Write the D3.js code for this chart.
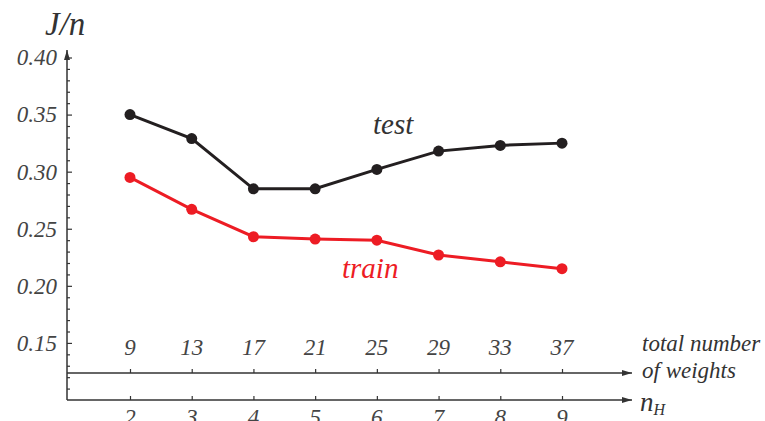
<!DOCTYPE html>
<html>
<head>
<meta charset="utf-8">
<script src="https://cdn.jsdelivr.net/npm/d3@7"></script>
<style>
  body { margin: 0; background: #fff; }
</style>
</head>
<body>
<script>
// hidden units n_H and the matching total number of weights
const nH = [2, 3, 4, 5, 6, 7, 8, 9];
const weights = [9, 13, 17, 21, 25, 29, 33, 37];
// J/n per model
const test = [0.350, 0.329, 0.285, 0.285, 0.302, 0.318, 0.323, 0.325];
const train = [0.295, 0.267, 0.243, 0.241, 0.240, 0.227, 0.221, 0.215];
const yTicks = [0.15, 0.20, 0.25, 0.30, 0.35, 0.40];

const width = 765, height = 421;
const axisX = 67, axisY = 400, upperY = 373;
const fontName = "Liberation Serif, Tinos, Times New Roman, serif";

const svg = d3.select("body")
  .append("svg")
  .attr("width", width)
  .attr("height", height)
  .attr("font-family", fontName);

svg.append("defs").append("marker")
  .attr("id", "arrow")
  .attr("viewBox", "0 0 10 6")
  .attr("refX", 10).attr("refY", 3)
  .attr("markerWidth", 10).attr("markerHeight", 6)
  .attr("markerUnits", "userSpaceOnUse")
  .attr("orient", "auto")
  .append("path")
  .attr("d", "M0,0L10,3L0,6Z")
  .attr("fill", "#333");

const x = d3.scaleLinear().domain([2, 9]).range([130, 562]);
const y = d3.scaleLinear().domain([0.10, 0.40]).range([axisY, 57.5]);

function label(px, py, str, size, color) {
  return svg.append("text")
    .attr("x", px).attr("y", py)
    .attr("font-family", fontName)
    .attr("font-style", "italic")
    .attr("font-size", size)
    .attr("fill", color)
    .text(str);
}

// axis lines with arrows
svg.append("line")
  .attr("x1", axisX).attr("y1", axisY).attr("x2", axisX).attr("y2", 50)
  .attr("stroke", "#333").attr("stroke-width", 1.5)
  .attr("marker-end", "url(#arrow)");
svg.append("line")
  .attr("x1", axisX).attr("y1", axisY).attr("x2", 632).attr("y2", axisY)
  .attr("stroke", "#333").attr("stroke-width", 1.5)
  .attr("marker-end", "url(#arrow)");
svg.append("line")
  .attr("x1", axisX).attr("y1", upperY).attr("x2", 632).attr("y2", upperY)
  .attr("stroke", "#333").attr("stroke-width", 1.5)
  .attr("marker-end", "url(#arrow)");

// y axis: minor ticks then major ticks with labels
const minor = d3.range(11, 40).map(d => d / 100).filter(d => !yTicks.some(t => Math.abs(t - d) < 1e-9));
svg.append("g")
  .attr("transform", `translate(${axisX},0)`)
  .call(d3.axisRight(y).tickValues(minor).tickSize(3).tickFormat(""))
  .call(g => g.select(".domain").remove())
  .call(g => g.selectAll("line").attr("stroke", "#333").attr("stroke-width", 1.2));

svg.append("g")
  .attr("transform", `translate(${axisX},0)`)
  .call(d3.axisLeft(y).tickValues(yTicks).tickSizeInner(-5).tickSizeOuter(0)
    .tickPadding(10).tickFormat(d3.format(".2f")))
  .attr("font-family", fontName)
  .attr("font-size", 23)
  .call(g => g.select(".domain").remove())
  .call(g => g.selectAll("line").attr("stroke", "#333").attr("stroke-width", 1.2))
  .call(g => g.selectAll("text")
    .attr("font-style", "italic")
    .attr("fill", "#444"));

// bottom axis: n_H
svg.append("g")
  .attr("transform", `translate(0,${axisY})`)
  .call(d3.axisTop(x).tickValues(nH).tickSize(4).tickFormat(""))
  .call(g => g.select(".domain").remove())
  .call(g => g.selectAll("line").attr("stroke", "#333").attr("stroke-width", 1.2));
nH.forEach(d => label(x(d), 425, d, 23, "#444").attr("text-anchor", "middle"));

// upper axis: total number of weights
svg.append("g")
  .attr("transform", `translate(0,${upperY})`)
  .call(d3.axisTop(x).tickValues(nH).tickSize(4).tickFormat(""))
  .call(g => g.select(".domain").remove())
  .call(g => g.selectAll("line").attr("stroke", "#333").attr("stroke-width", 1.2));
weights.forEach((d, i) => label(x(nH[i]), 355, d, 23, "#444").attr("text-anchor", "middle"));

// axis titles
label(45, 35, "J/n", 33, "#333");
label(642, 351, "total number", 23, "#333");
label(642, 378, "of weights", 23, "#333");
const nt = label(640, 411, "", 27, "#333");
nt.append("tspan").text("n");
nt.append("tspan").attr("font-size", 16).attr("dy", 4).text("H");

// series
const line = d3.line().x((d, i) => x(nH[i])).y(d => y(d));
const series = [
  {name: "test", values: test, color: "#231f20"},
  {name: "train", values: train, color: "#ed1c24"}
];
series.forEach(s => {
  svg.append("path")
    .datum(s.values)
    .attr("d", line)
    .attr("fill", "none")
    .attr("stroke", s.color)
    .attr("stroke-width", 3);
  svg.append("g").selectAll("circle")
    .data(s.values)
    .join("circle")
    .attr("cx", (d, i) => x(nH[i]))
    .attr("cy", d => y(d))
    .attr("r", 5.5)
    .attr("fill", s.color);
});

label(373, 134, "test", 29, "#333");
label(342, 278, "train", 29, "#ed1c24");
</script>
</body>
</html>
